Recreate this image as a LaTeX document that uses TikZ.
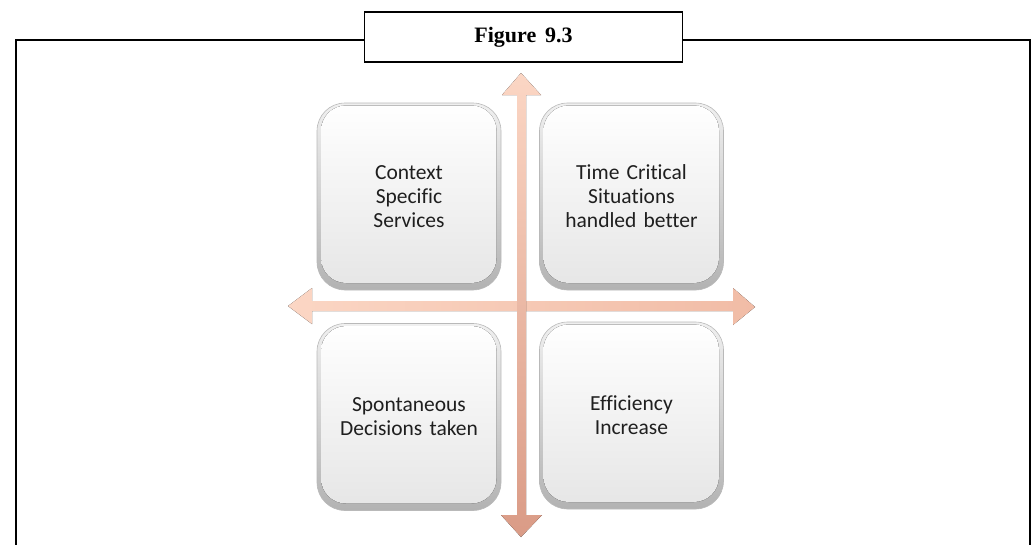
\documentclass[tikz,border=0pt]{standalone}
\usepackage{fontspec}
\setmainfont{Carlito}[Ligatures=NoCommon]
\newfontfamily\titlefont{Liberation Serif}
\usetikzlibrary{calc}
\definecolor{peachL}{HTML}{FBD6C4}
\definecolor{peachD}{HTML}{DA9B86}
\definecolor{peachM}{HTML}{F1BCA6}
\begin{document}
\begin{tikzpicture}[x=1pt,y=-1pt]
\tikzset{
  qbox/.style={rounded corners=28pt, draw=gray!55, line width=0.6pt,
    top color=gray!12, bottom color=gray!60,
    minimum width=184pt, minimum height=187pt, text width=170pt, align=center,
    font=\fontsize{21.5}{24}\selectfont, text=black!88, inner sep=0pt,
    path picture={\fill[top color=white, bottom color=gray!20, rounded corners=25pt]
      ([shift={(4pt,-2.5pt)}]path picture bounding box.north west) rectangle
      ([shift={(-4.5pt,7pt)}]path picture bounding box.south east);}},
  titlebox/.style={draw, line width=1.8pt, fill=white, minimum width=318pt,
    minimum height=50pt, inner sep=0pt, font=\titlefont\bfseries\fontsize{22}{24}\selectfont},
  frame/.style={line width=1.8pt, line cap=rect}
}
\useasboundingbox (0,0) rectangle (1033,544);
% frame
\node[titlebox] (title) at (523.5,37) {\raisebox{2pt}{Figure\hspace{0.4em}9.3}};
\coordinate (fl) at (16,560);
\coordinate (fr) at (1030,560);
\begin{scope}
\clip (0,0) rectangle (1033,544);
\draw[frame] (title.west |- 0,40) -- (16,40) -- (fl);
\draw[frame] (title.east |- 0,40) -- (1030,40) -- (fr);
\end{scope}
% horizontal arrow
\fill[left color=peachL, right color=peachM]
  (288,306) -- (312,288) -- (312,301) -- (733,301) -- (733,288) -- (755,307)
  -- (733,325) -- (733,311) -- (312,311) -- (312,324) -- cycle;
% vertical arrow
\fill[top color=peachL, bottom color=peachD]
  (521,73) -- (541,95) -- (526,95) -- (526,515) -- (542,515) -- (521,537)
  -- (501,515) -- (517,515) -- (517,95) -- (502,95) -- cycle;
% boxes
\node[qbox] (tl) at (409,196.5) {Context\\Specific\\Services};
\node[qbox] (tr) at (631.5,196.5) {Time Critical\\Situations\\handled better};
\node[qbox] (bl) at (409,417) {Spontaneous\\Decisions taken};
\node[qbox] (br) at (631.5,415.5) {Efficiency\\Increase};
\end{tikzpicture}
\end{document}
